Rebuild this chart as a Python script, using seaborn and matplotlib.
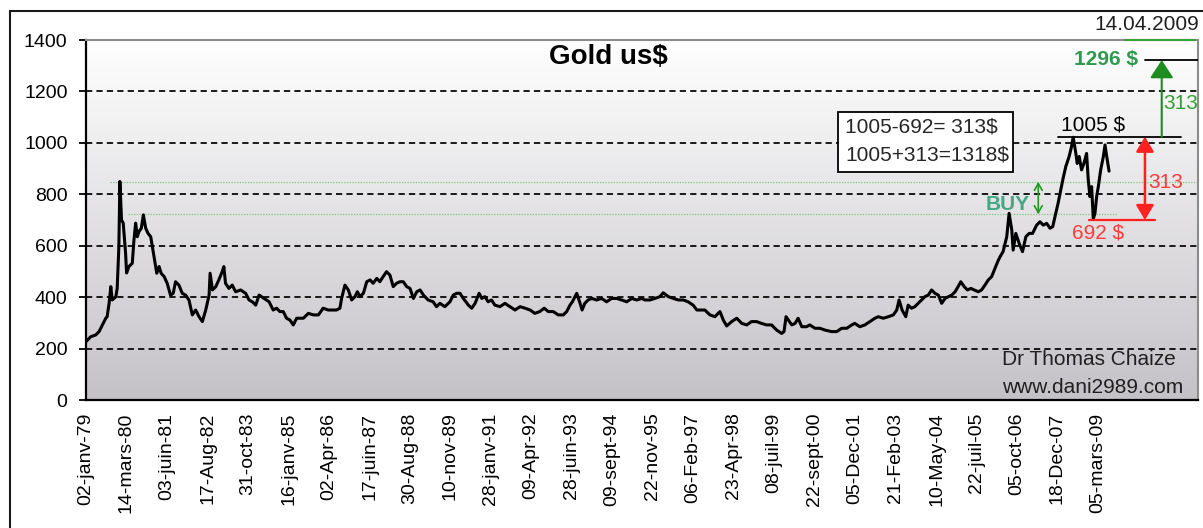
import numpy as np
import pandas as pd
import seaborn as sns
import matplotlib.pyplot as plt
from matplotlib.patches import Rectangle
from matplotlib.lines import Line2D

# Gold price in us$ (x = decimal year)
years = [
    1979.00, 1979.14, 1979.29, 1979.39, 1979.49, 1979.59, 1979.63, 1979.69, 1979.74, 1979.78,
    1979.89, 1979.93, 1979.98, 1980.01, 1980.06, 1980.11, 1980.15, 1980.18, 1980.21, 1980.28,
    1980.38, 1980.43, 1980.48, 1980.53, 1980.58, 1980.65, 1980.71, 1980.78, 1980.85, 1980.93,
    1980.98, 1981.03, 1981.11, 1981.18, 1981.24, 1981.33, 1981.42, 1981.52, 1981.60, 1981.67,
    1981.77, 1981.87, 1981.97, 1982.07, 1982.17, 1982.27, 1982.37, 1982.47, 1982.57, 1982.67,
    1982.70, 1982.77, 1982.87, 1982.96, 1983.06, 1983.11, 1983.16, 1983.26, 1983.36, 1983.46,
    1983.61, 1983.76, 1983.86, 1983.96, 1984.06, 1984.16, 1984.31, 1984.46,
    1984.58, 1984.68, 1984.78, 1984.88, 1984.98, 1985.08, 1985.18, 1985.28, 1985.38, 1985.48,
    1985.63, 1985.78, 1985.93, 1986.07, 1986.22, 1986.47, 1986.57, 1986.62, 1986.72, 1986.82,
    1986.92, 1987.02, 1987.09, 1987.17, 1987.27, 1987.37, 1987.47, 1987.56, 1987.67, 1987.76,
    1987.86, 1987.96, 1988.06, 1988.16, 1988.26, 1988.36, 1988.46, 1988.56, 1988.66, 1988.76,
    1988.86, 1988.96, 1989.06, 1989.20, 1989.35, 1989.45, 1989.55, 1989.70, 1989.85, 1989.95,
    1990.05,
    1990.15, 1990.25, 1990.40, 1990.50, 1990.60, 1990.72, 1990.80, 1990.89, 1990.99, 1991.09,
    1991.19, 1991.34, 1991.49, 1991.64, 1991.79, 1991.94, 1992.09, 1992.24, 1992.38, 1992.53,
    1992.66, 1992.78, 1992.93, 1993.08, 1993.23, 1993.33, 1993.43, 1993.50, 1993.58, 1993.63,
    1993.73, 1993.79, 1993.87, 1993.97, 1994.08, 1994.22, 1994.37, 1994.52, 1994.67, 1994.82,
    1994.97, 1995.12, 1995.27, 1995.42,
    1995.57, 1995.66, 1995.81, 1995.96, 1996.11, 1996.21, 1996.36, 1996.51, 1996.66, 1996.81,
    1996.95, 1997.10, 1997.21, 1997.30, 1997.45, 1997.60, 1997.75, 1997.90, 1998.00, 1998.10,
    1998.25, 1998.40, 1998.55, 1998.70, 1998.84, 1998.99, 1999.14, 1999.29, 1999.44, 1999.59,
    1999.74, 1999.81, 1999.87, 1999.94, 2000.04, 2000.14, 2000.23, 2000.34, 2000.48, 2000.58,
    2000.73, 2000.88, 2001.03,
    2001.23, 2001.38, 2001.53, 2001.68, 2001.83, 2001.92, 2002.07, 2002.22, 2002.37, 2002.52,
    2002.62, 2002.77, 2002.92, 2003.07, 2003.17, 2003.24, 2003.33, 2003.44, 2003.51, 2003.61,
    2003.71, 2003.81, 2003.91, 2004.01, 2004.11, 2004.21, 2004.31, 2004.41, 2004.51, 2004.61,
    2004.71, 2004.81, 2004.91, 2005.00, 2005.08, 2005.18, 2005.28, 2005.38, 2005.48, 2005.60,
    2005.70, 2005.80, 2005.90, 2006.00,
    2006.10, 2006.18, 2006.25, 2006.34, 2006.45, 2006.52, 2006.60, 2006.64, 2006.72, 2006.82,
    2006.92, 2007.02, 2007.12, 2007.22, 2007.34, 2007.44, 2007.54, 2007.64, 2007.74, 2007.82,
    2007.89, 2007.98, 2008.06, 2008.13, 2008.21, 2008.31, 2008.38, 2008.43, 2008.51, 2008.55,
    2008.61, 2008.68, 2008.75, 2008.83, 2008.88, 2008.93, 2008.98, 2009.03, 2009.08, 2009.13,
    2009.18, 2009.25, 2009.33, 2009.38, 2009.43, 2009.48, 2009.50,
]
prices = [
    227, 246, 253, 266, 292, 318, 324, 377, 441, 389,
    402, 434, 596, 850, 700, 688, 622, 572, 494, 519,
    532, 622, 688, 635, 655, 668, 720, 668, 648, 635,
    596, 557, 493, 519, 493, 480, 454, 408, 415, 460,
    447, 415, 408, 389, 331, 350, 324, 305, 350, 408,
    493, 428, 441, 467, 499, 519, 454, 434, 447, 421,
    428, 415, 389, 382, 369, 408, 395, 382,
    350, 357, 344, 344, 318, 311, 292, 318, 318, 318,
    337, 331, 331, 357, 350, 350, 357, 395, 447, 428,
    389, 402, 421, 402, 415, 460, 467, 454, 473, 460,
    480, 499, 486, 441, 454, 460, 460, 441, 434, 395,
    421, 428, 408, 389, 382, 363, 376, 363, 382, 408,
    415,
    415, 395, 369, 357, 376, 415, 395, 402, 382, 389,
    369, 363, 376, 363, 350, 363, 357, 350, 337, 344,
    357, 344, 344, 331, 331, 344, 369, 382, 402, 415,
    376, 350, 376, 389, 395, 389, 395, 382, 395, 395,
    389, 382, 395, 389,
    395, 389, 389, 395, 402, 417, 402, 395, 389, 389,
    382, 369, 350, 350, 350, 331, 324, 344, 311, 288,
    305, 318, 298, 292, 305, 305, 298, 292, 292, 272,
    259, 266, 324, 311, 292, 298, 318, 285, 285, 292,
    279, 279, 272,
    266, 266, 279, 279, 292, 298, 285, 292, 305, 318,
    324, 318, 324, 331, 350, 389, 350, 324, 369, 357,
    363, 376, 389, 402, 408, 428, 415, 408, 376, 395,
    402, 408, 421, 441, 460, 441, 428, 434, 428, 421,
    428, 447, 467, 480,
    512, 538, 557, 577, 635, 726, 661, 583, 648, 609,
    577, 635, 648, 648, 680, 693, 680, 687, 668, 674,
    713, 765, 817, 862, 908, 947, 985, 1022, 959, 920,
    947, 895, 920, 959, 856, 791, 830, 705, 726, 791,
    830, 895, 947, 992, 947, 908, 890,
]

tick_dates = [
    "1979-01-02", "1980-03-14", "1981-06-03", "1982-08-17", "1983-10-31", "1985-01-16",
    "1986-04-02", "1987-06-17", "1988-08-30", "1989-11-10", "1991-01-28", "1992-04-09",
    "1993-06-28", "1994-09-09", "1995-11-22", "1997-02-06", "1998-04-23", "1999-07-08",
    "2000-09-22", "2001-12-05", "2003-02-21", "2004-05-10", "2005-07-22", "2006-10-05",
    "2007-12-18", "2009-03-05",
]
tick_labels = [
    "02-janv-79", "14-mars-80", "03-juin-81", "17-Aug-82", "31-oct-83", "16-janv-85",
    "02-Apr-86", "17-juin-87", "30-Aug-88", "10-nov-89", "28-janv-91", "09-Apr-92",
    "28-juin-93", "09-sept-94", "22-nov-95", "06-Feb-97", "23-Apr-98", "08-juil-99",
    "22-sept-00", "05-Dec-01", "21-Feb-03", "10-May-04", "22-juil-05", "05-oct-06",
    "18-Dec-07", "05-mars-09",
]
y_ticks = [0, 200, 400, 600, 800, 1000, 1200, 1400]
grid_levels = [200, 400, 600, 800, 1000, 1200]

# levels of the hand drawn marks
peak_1980 = 849
second_peak_1980 = 722
top_2008 = 1024
low_2008 = 700
target = 1322

d = pd.to_datetime(tick_dates)
tick_pos = (d.year + (d.dayofyear - 1) / 365.25).to_numpy()

sns.set_theme(style="white")
plt.rcParams['font.family'] = ['Liberation Sans', 'DejaVu Sans']

fig = plt.figure(figsize=(12.03, 5.28), dpi=100)
fig.patch.set_facecolor('white')
ax = fig.add_axes([0.0712, 0.2424, 0.9246, 0.6818])
x0, x1 = 1978.99, 2012.15

# grey gradient plot area
grad = np.linspace(0, 1, 256)[:, None, None]
top_c = np.array([1.0, 1.0, 1.0])
bot_c = np.array([197, 194, 199]) / 255
img = top_c + (bot_c - top_c) * grad
ax.imshow(img, extent=[x0, x1, 0, 1400], aspect='auto', origin='upper', zorder=0)

for lev in grid_levels:
    ax.axhline(lev, color='black', lw=1.25, ls=(0, (3.6, 2.4)), zorder=1)

green_dot = '#7cc87c'
ax.plot([1979.72, x1], [peak_1980, peak_1980], color=green_dot, lw=0.9, ls=(0, (1, 1.2)), zorder=1.5)
ax.plot([1980.26, 2009.76], [second_peak_1980, second_peak_1980], color=green_dot, lw=0.9,
        ls=(0, (1, 1.2)), zorder=1.5)

sns.lineplot(x=years, y=prices, ax=ax, color='black', linewidth=2.2, estimator=None,
             sort=False, zorder=3)

ax.set_xlim(x0, x1)
ax.set_ylim(0, 1400)
ax.set_yticks(y_ticks)
ax.set_xticks(tick_pos)
ax.set_xticklabels(tick_labels, rotation=90, fontsize=14, color='black')
ax.tick_params(axis='x', length=0, pad=9)
ax.tick_params(axis='y', left=True, length=5, width=1.3, color='black', labelsize=14,
               labelcolor='black', pad=8)
ax.set_xlabel('')
ax.set_ylabel('')

for side in ['left', 'bottom']:
    ax.spines[side].set_color('black')
    ax.spines[side].set_linewidth(1.6)
for side in ['top', 'right']:
    ax.spines[side].set_color('#8c8c8c')
    ax.spines[side].set_linewidth(1.5)

ax.text(0.4696, 0.953, 'Gold us$', transform=ax.transAxes, ha='center', va='center',
        fontsize=20, fontweight='bold', color='black', zorder=6)

# box with the computation
ax.add_patch(Rectangle((2001.43, 886), 5.21, 235, facecolor='white', edgecolor='black',
                       lw=1.3, zorder=5))
ax.text(2001.63, 1063, '1005-692= 313$', ha='left', va='center', fontsize=15, zorder=6)
ax.text(2001.63, 953, '1005+313=1318$', ha='left', va='center', fontsize=15, zorder=6)

red = '#ff2020'
green = '#1e8c1e'

# top of 2008
ax.plot([2007.98, 2011.64], [top_2008, top_2008], color='black', lw=1.3, zorder=4)
ax.text(2009.02, 1070, '1005 $', ha='center', va='center', fontsize=15, color='black', zorder=6)

# target
ax.plot([2010.57, x1], [target, target], color='black', lw=1.3, zorder=4)
ax.text(2010.36, 1325, '1296 $', ha='right', va='center', fontsize=15, color='#2f9a4f',
        fontweight='bold', zorder=6)
ax.annotate('', xy=(2011.07, target), xytext=(2011.07, top_2008),
            arrowprops=dict(arrowstyle='-|>,head_length=0.55,head_width=0.36', color=green,
                            lw=1.5, mutation_scale=20, shrinkA=0, shrinkB=0), zorder=5)
ax.text(2011.11, 1154, '313', ha='left', va='center', fontsize=15, color='#34a034', zorder=6)

# low of 2008
ax.plot([2008.90, 2010.87], [low_2008, low_2008], color=red, lw=1.6, zorder=4)
ax.text(2009.17, 648, '692 $', ha='center', va='center', fontsize=15, color='#ff3b3b', zorder=6)
ax.annotate('', xy=(2010.57, low_2008), xytext=(2010.57, top_2008),
            arrowprops=dict(arrowstyle='<|-|>,head_length=0.45,head_width=0.27', color=red,
                            lw=1.8, mutation_scale=20, shrinkA=0, shrinkB=0), zorder=5)
ax.text(2010.66, 845, '313', ha='left', va='center', fontsize=15, color='#ff3b3b', zorder=6)

# buy zone
ax.text(2006.49, 762, 'BUY', ha='center', va='center', fontsize=15, color='#45a885',
        fontweight='bold', zorder=6)
ax.annotate('', xy=(2007.39, peak_1980), xytext=(2007.39, second_peak_1980),
            arrowprops=dict(arrowstyle='<->,head_length=0.25,head_width=0.14', color='#209a20',
                            lw=1.2, mutation_scale=20, shrinkA=0, shrinkB=0), zorder=5)

ax.text(2006.31, 159, 'Dr Thomas Chaize', ha='left', va='center', fontsize=15,
        color='#202020', zorder=6)
ax.text(2006.31, 47, 'www.dani2989.com', ha='left', va='center', fontsize=15,
        color='#202020', zorder=6)

fig.text(1199 / 1203, 1 - 25 / 528, '14.04.2009', ha='right', va='center', fontsize=15,
         color='#202020')
fig.add_artist(Line2D([1125 / 1203, 1195 / 1203], [1 - 39.5 / 528, 1 - 39.5 / 528],
                      transform=fig.transFigure, color='#3aa03a', lw=1.5))

# outer chart frame
fig.add_artist(Rectangle((9.5 / 1203, -0.1), 1.2, 1.1 - 11 / 528, transform=fig.transFigure,
                         fill=False, edgecolor='#1a1a1a', lw=1.5))

fig.savefig('out.png', dpi=100)
